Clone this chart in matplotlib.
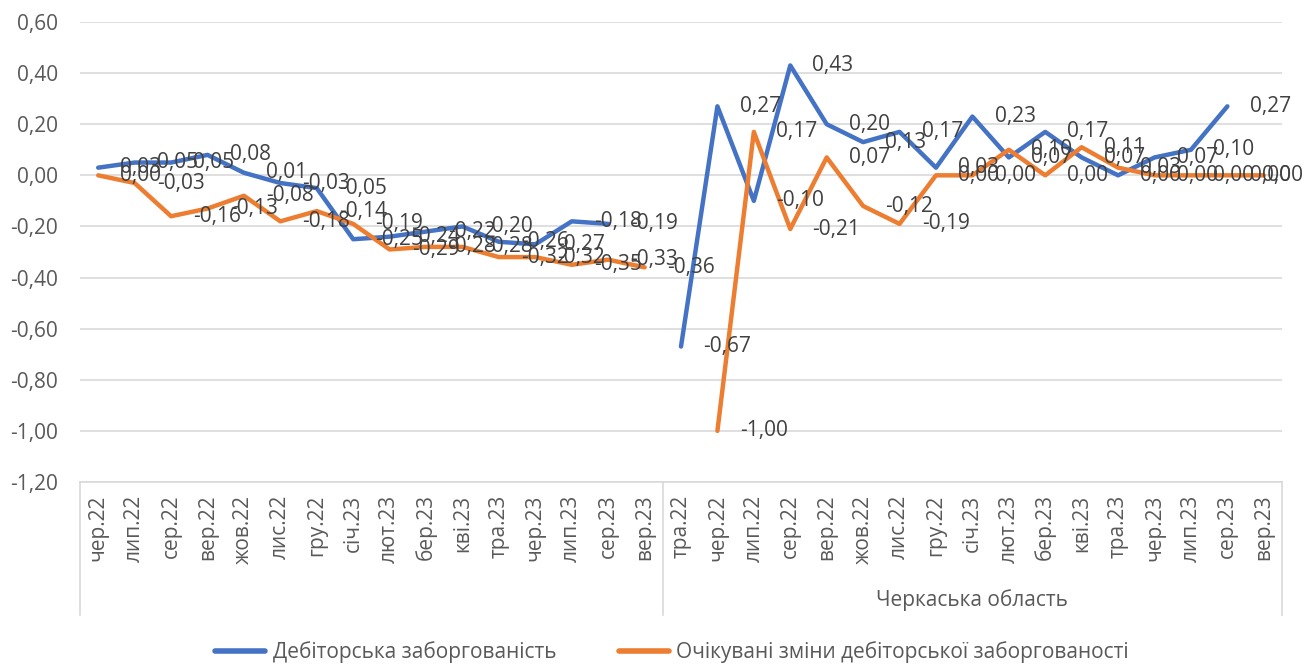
import numpy as np
import matplotlib
matplotlib.use("Agg")
import matplotlib.pyplot as plt
import matplotlib.transforms as mtransforms

plt.rcParams['font.family'] = ['Open Sans', 'DejaVu Sans']

group1_months = ["чер.22", "лип.22", "сер.22", "вер.22", "жов.22", "лис.22", "гру.22", "січ.23",
                 "лют.23", "бер.23", "кві.23", "тра.23", "чер.23", "лип.23", "сер.23", "вер.23"]
group2_months = ["тра.22", "чер.22", "лип.22", "сер.22", "вер.22", "жов.22", "лис.22", "гру.22",
                 "січ.23", "лют.23", "бер.23", "кві.23", "тра.23", "чер.23", "лип.23", "сер.23", "вер.23"]
group_labels = ["", "Черкаська область"]

nan = np.nan
debt_g1 = [0.03, 0.05, 0.05, 0.08, 0.01, -0.03, -0.05, -0.25,
           -0.24, -0.22, -0.20, -0.26, -0.27, -0.18, -0.19, nan]
debt_g2 = [-0.67, 0.27, -0.10, 0.43, 0.20, 0.13, 0.17, 0.03,
           0.23, 0.07, 0.17, 0.07, 0.00, 0.07, 0.10, 0.27, nan]
exp_g1 = [0.00, -0.03, -0.16, -0.13, -0.08, -0.18, -0.14, -0.19,
          -0.29, -0.28, -0.28, -0.32, -0.32, -0.35, -0.33, -0.36]
exp_g2 = [nan, -1.00, 0.17, -0.21, 0.07, -0.12, -0.19, 0.00,
          0.00, 0.10, 0.00, 0.11, 0.03, 0.00, 0.00, 0.00, 0.00]

series_names = ["Дебіторська заборгованість", "Очікувані зміни дебіторської заборгованості"]
colors = ["#4472C4", "#ED7D31"]
text_color = "#595959"
FS = 15

def fmt(v):
    v = round(float(v), 2)
    if v == 0:
        v = 0.0
    return f"{v:.2f}".replace(".", ",")

labels = group1_months + group2_months
debt = np.array(debt_g1 + debt_g2, dtype=float)
expd = np.array(exp_g1 + exp_g2, dtype=float)
x = np.arange(len(labels))

fig = plt.figure(figsize=(13.06, 6.65), dpi=100)
L, R, T, B = 80, 1282, 22, 482
W, H = 1306, 665
ax = fig.add_axes([L / W, 1 - B / H, (R - L) / W, (B - T) / H])

ax.set_ylim(-1.2, 0.6)
ax.set_xlim(-0.5, len(labels) - 0.5)
yt = np.round(np.arange(-1.2, 0.61, 0.2), 2)
ax.set_yticks(yt)
ax.set_yticklabels([fmt(v) for v in yt], fontsize=FS, color=text_color)
ax.yaxis.grid(True, color="#d9d9d9", linewidth=1.2)
ax.set_axisbelow(True)
for s in ["left", "right", "top"]:
    ax.spines[s].set_visible(False)
ax.spines["bottom"].set_color("#d9d9d9")
ax.spines["bottom"].set_linewidth(1.2)
ax.tick_params(axis="y", length=0, pad=16)
ax.tick_params(axis="x", length=0, pad=9)
ax.set_xticks(x)
ax.set_xticklabels(labels, rotation=90, fontsize=FS, color=text_color, va="top")

for vals, col, name in [(debt, colors[0], series_names[0]), (expd, colors[1], series_names[1])]:
    ax.plot(x, vals, color=col, linewidth=3.2, solid_capstyle="round",
            solid_joinstyle="round", label=name, zorder=3)

last = len(labels) - 1
for vals in [debt, expd]:
    for xi, v in zip(x, vals):
        if np.isnan(v):
            continue
        if xi == last:
            # keep the label inside the chart, as the reference does
            off, ha = (28, 0), "right"
        else:
            off, ha = (16, 0), "left"
        ax.annotate(fmt(v), (xi, v), xytext=off,
                    textcoords="offset points", ha=ha, va="center",
                    fontsize=FS, color="#404040", zorder=4, annotation_clip=False)

# category group separators
trans = mtransforms.blended_transform_factory(ax.transData, ax.transAxes)
sep_bottom = -(615 - 482) / (B - T)
for xs in [-0.5, len(group1_months) - 0.5, len(labels) - 0.5]:
    ax.plot([xs, xs], [0, sep_bottom], transform=trans, color="#d9d9d9",
            linewidth=1.2, clip_on=False)
g1c = (len(group1_months) - 1) / 2
g2c = len(group1_months) + (len(group2_months) - 1) / 2
for cx, gl in zip([g1c, g2c], group_labels):
    ax.text(cx, -(600 - 482) / (B - T), gl, transform=trans, ha="center", va="center",
            fontsize=FS, color=text_color)

leg = fig.legend(loc="center", bbox_to_anchor=(0.5146, 1 - 652 / H), ncol=2, frameon=False,
                 fontsize=FS, handlelength=2.4, handletextpad=0.35, columnspacing=3.0)
for t in leg.get_texts():
    t.set_color(text_color)
for h in leg.get_lines():
    h.set_linewidth(4)

fig.savefig("out.png", dpi=100)
